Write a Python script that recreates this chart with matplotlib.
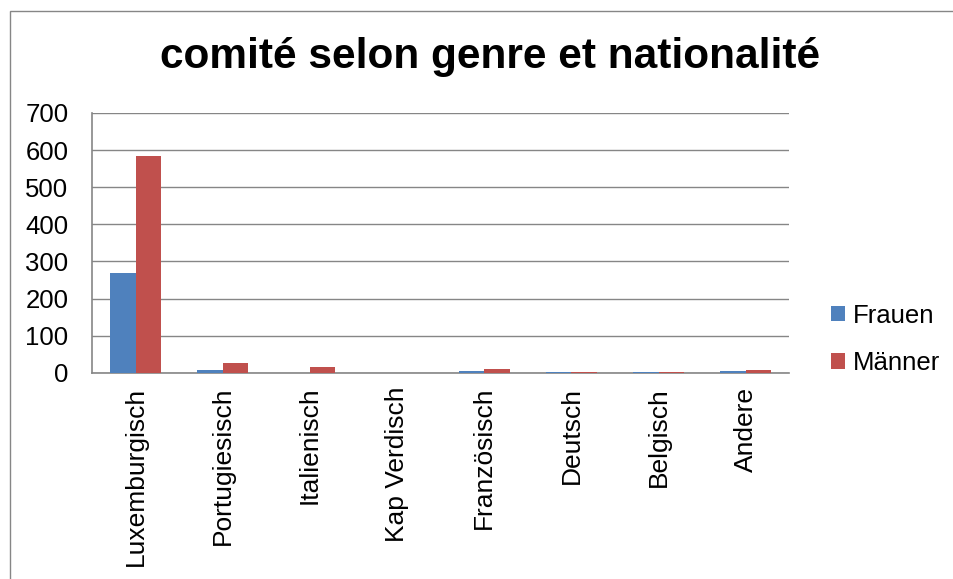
import matplotlib
matplotlib.use("Agg")
import matplotlib.pyplot as plt
import numpy as np
from matplotlib.patches import Rectangle

plt.rcParams["font.family"] = ["Liberation Sans", "DejaVu Sans"]

categories = ["Luxemburgisch", "Portugiesisch", "Italienisch", "Kap Verdisch",
              "Französisch", "Deutsch", "Belgisch", "Andere"]
frauen = [270, 8, 1, 0, 4, 3, 2, 4]
maenner = [583, 27, 17, 0, 11, 3, 3, 9]

BLUE = "#4F81BD"
RED = "#C0504D"
GRID = "#868686"

fig = plt.figure(figsize=(9.54, 5.79), dpi=100, facecolor="white")
ax = fig.add_axes([0.0964, 0.356, 0.731, 0.449])

x = np.arange(len(categories))
w = 0.29
ax.bar(x - w / 2, frauen, width=w, color=BLUE, label="Frauen", zorder=3)
ax.bar(x + w / 2, maenner, width=w, color=RED, label="Männer", zorder=3)

ax.set_xlim(-0.5, len(categories) - 0.5)
ax.set_ylim(0, 700)
ax.set_yticks(range(0, 701, 100))
ax.yaxis.grid(True, color=GRID, linewidth=1, zorder=0)
ax.set_axisbelow(True)
ax.set_xticks(x)
ax.set_xticklabels(categories, rotation=90, fontsize=19)
ax.tick_params(axis="y", labelsize=18.5, length=0, pad=17)
ax.tick_params(axis="x", length=0, pad=10)

for s in ["top", "right"]:
    ax.spines[s].set_visible(False)
for s in ["left", "bottom"]:
    ax.spines[s].set_color(GRID)
    ax.spines[s].set_linewidth(1.2)

fig.text(0.514, 0.902, "comité selon genre et nationalité", ha="center",
         va="center", fontsize=30.5, fontweight="bold")

fig.legend(loc="center left", bbox_to_anchor=(0.871, 0.414), frameon=False,
           fontsize=18.5, handlelength=0.55, handleheight=0.55, handletextpad=0.3,
           labelspacing=0.9, borderpad=0, borderaxespad=0)

fig.patches.append(Rectangle((10 / 954, -0.05), 1.0, 1 - 11 / 579 + 0.05,
                             transform=fig.transFigure, fill=False,
                             edgecolor="#868686", linewidth=1))

fig.savefig("out.png", dpi=100, facecolor="white")
